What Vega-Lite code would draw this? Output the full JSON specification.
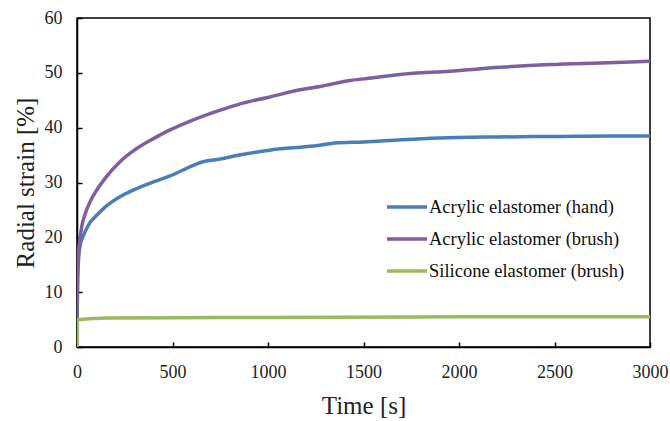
{
  "$schema": "https://vega.github.io/schema/vega-lite/v6.json",
  "width": 573,
  "height": 329,
  "autosize": {"type": "none"},
  "padding": {"left": 77, "top": 18, "right": 20, "bottom": 74},
  "background": "white",
  "config": {
    "view": {"stroke": "black", "strokeWidth": 1.5},
    "font": "Liberation Serif"
  },
  "data": {"values": [
    {"t":0,"v":4,"s":"Acrylic elastomer (hand)"},
    {"t":3,"v":12,"s":"Acrylic elastomer (hand)"},
    {"t":8,"v":16,"s":"Acrylic elastomer (hand)"},
    {"t":16,"v":18.5,"s":"Acrylic elastomer (hand)"},
    {"t":30,"v":20,"s":"Acrylic elastomer (hand)"},
    {"t":42,"v":21,"s":"Acrylic elastomer (hand)"},
    {"t":70,"v":22.8,"s":"Acrylic elastomer (hand)"},
    {"t":94,"v":23.7,"s":"Acrylic elastomer (hand)"},
    {"t":150,"v":25.6,"s":"Acrylic elastomer (hand)"},
    {"t":225,"v":27.4,"s":"Acrylic elastomer (hand)"},
    {"t":300,"v":28.7,"s":"Acrylic elastomer (hand)"},
    {"t":400,"v":30.1,"s":"Acrylic elastomer (hand)"},
    {"t":487,"v":31.2,"s":"Acrylic elastomer (hand)"},
    {"t":600,"v":33.0,"s":"Acrylic elastomer (hand)"},
    {"t":650,"v":33.7,"s":"Acrylic elastomer (hand)"},
    {"t":750,"v":34.3,"s":"Acrylic elastomer (hand)"},
    {"t":850,"v":35,"s":"Acrylic elastomer (hand)"},
    {"t":1010,"v":35.9,"s":"Acrylic elastomer (hand)"},
    {"t":1150,"v":36.4,"s":"Acrylic elastomer (hand)"},
    {"t":1272,"v":36.8,"s":"Acrylic elastomer (hand)"},
    {"t":1350,"v":37.2,"s":"Acrylic elastomer (hand)"},
    {"t":1500,"v":37.4,"s":"Acrylic elastomer (hand)"},
    {"t":1700,"v":37.8,"s":"Acrylic elastomer (hand)"},
    {"t":1900,"v":38.1,"s":"Acrylic elastomer (hand)"},
    {"t":2000,"v":38.2,"s":"Acrylic elastomer (hand)"},
    {"t":2200,"v":38.3,"s":"Acrylic elastomer (hand)"},
    {"t":2500,"v":38.4,"s":"Acrylic elastomer (hand)"},
    {"t":2800,"v":38.5,"s":"Acrylic elastomer (hand)"},
    {"t":3000,"v":38.5,"s":"Acrylic elastomer (hand)"},
    {"t":0,"v":4,"s":"Acrylic elastomer (brush)"},
    {"t":3,"v":12,"s":"Acrylic elastomer (brush)"},
    {"t":8,"v":17,"s":"Acrylic elastomer (brush)"},
    {"t":16,"v":19.8,"s":"Acrylic elastomer (brush)"},
    {"t":24,"v":21.8,"s":"Acrylic elastomer (brush)"},
    {"t":42,"v":24.2,"s":"Acrylic elastomer (brush)"},
    {"t":70,"v":26.6,"s":"Acrylic elastomer (brush)"},
    {"t":94,"v":28.1,"s":"Acrylic elastomer (brush)"},
    {"t":150,"v":30.9,"s":"Acrylic elastomer (brush)"},
    {"t":225,"v":33.8,"s":"Acrylic elastomer (brush)"},
    {"t":300,"v":35.9,"s":"Acrylic elastomer (brush)"},
    {"t":400,"v":38,"s":"Acrylic elastomer (brush)"},
    {"t":487,"v":39.6,"s":"Acrylic elastomer (brush)"},
    {"t":600,"v":41.3,"s":"Acrylic elastomer (brush)"},
    {"t":750,"v":43.2,"s":"Acrylic elastomer (brush)"},
    {"t":850,"v":44.3,"s":"Acrylic elastomer (brush)"},
    {"t":1010,"v":45.6,"s":"Acrylic elastomer (brush)"},
    {"t":1168,"v":46.9,"s":"Acrylic elastomer (brush)"},
    {"t":1272,"v":47.5,"s":"Acrylic elastomer (brush)"},
    {"t":1429,"v":48.6,"s":"Acrylic elastomer (brush)"},
    {"t":1500,"v":48.9,"s":"Acrylic elastomer (brush)"},
    {"t":1691,"v":49.7,"s":"Acrylic elastomer (brush)"},
    {"t":1953,"v":50.3,"s":"Acrylic elastomer (brush)"},
    {"t":2215,"v":51.0,"s":"Acrylic elastomer (brush)"},
    {"t":2476,"v":51.5,"s":"Acrylic elastomer (brush)"},
    {"t":2738,"v":51.8,"s":"Acrylic elastomer (brush)"},
    {"t":3000,"v":52.1,"s":"Acrylic elastomer (brush)"},
    {"t":0,"v":0,"s":"Silicone elastomer (brush)"},
    {"t":2,"v":5.0,"s":"Silicone elastomer (brush)"},
    {"t":50,"v":5.1,"s":"Silicone elastomer (brush)"},
    {"t":150,"v":5.3,"s":"Silicone elastomer (brush)"},
    {"t":500,"v":5.35,"s":"Silicone elastomer (brush)"},
    {"t":1000,"v":5.4,"s":"Silicone elastomer (brush)"},
    {"t":2000,"v":5.5,"s":"Silicone elastomer (brush)"},
    {"t":3000,"v":5.5,"s":"Silicone elastomer (brush)"}
  ]},
  "mark": {"type": "line", "interpolate": "monotone", "clip": true},
  "encoding": {
    "x": {
      "field": "t", "type": "quantitative",
      "scale": {"domain": [0, 3000], "nice": false},
      "axis": {
        "title": "Time [s]", "values": [0,500,1000,1500,2000,2500,3000], "format": "d",
        "labelFlush": false, "labelOverlap": false,
        "grid": false, "domainColor": "black", "domainWidth": 1.5,
        "tickColor": "black", "tickSize": -5, "tickWidth": 1.5,
        "labelFontSize": 18, "labelColor": "#222", "labelPadding": 21,
        "titleFontSize": 25, "titleFontWeight": "normal", "titleColor": "#222", "titlePadding": 12
      }
    },
    "y": {
      "field": "v", "type": "quantitative",
      "scale": {"domain": [0, 60], "nice": false},
      "axis": {
        "title": "Radial strain [%]", "values": [0,10,20,30,40,50,60],
        "labelFlush": false, "labelOverlap": false,
        "grid": false, "domainColor": "black", "domainWidth": 1.5,
        "tickColor": "black", "tickSize": -5, "tickWidth": 1.5,
        "labelFontSize": 18, "labelColor": "#222", "labelPadding": 20,
        "titleFontSize": 25, "titleFontWeight": "normal", "titleColor": "#222", "titlePadding": 6
      }
    },
    "color": {
      "field": "s", "type": "nominal",
      "scale": {
        "domain": ["Acrylic elastomer (hand)", "Acrylic elastomer (brush)", "Silicone elastomer (brush)"],
        "range": ["#4a7ebb", "#7d60a0", "#9bbb59"]
      },
      "legend": {
        "title": null, "orient": "none", "legendX": 308, "legendY": 167,
        "symbolType": "stroke", "symbolSize": 1600, "symbolStrokeWidth": 3,
        "labelFontSize": 18.5, "labelColor": "#111", "labelOffset": 0, "labelLimit": 400, "rowPadding": -9
      }
    },
    "strokeWidth": {
      "field": "s", "type": "nominal",
      "scale": {
        "domain": ["Acrylic elastomer (hand)", "Acrylic elastomer (brush)", "Silicone elastomer (brush)"],
        "range": [3.5, 3.5, 2]
      },
      "legend": null
    }
  }
}
